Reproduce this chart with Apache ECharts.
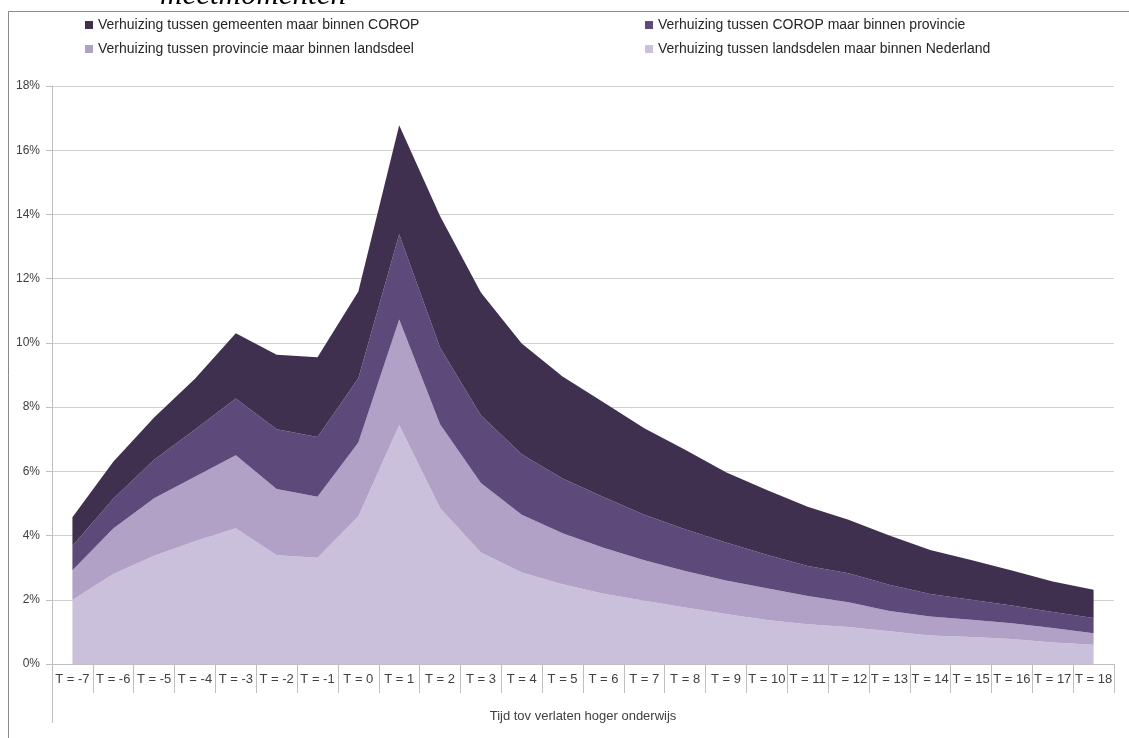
<!DOCTYPE html>
<html>
<head>
<meta charset="utf-8">
<script src="https://cdn.jsdelivr.net/npm/echarts@6/dist/echarts.min.js"></script>
<style>html,body{margin:0;padding:0;background:#fff}#c{width:1129px;height:738px}</style>
</head>
<body>
<div id="c"></div>
<script>
const categories = ['T = -7','T = -6','T = -5','T = -4','T = -3','T = -2','T = -1','T = 0','T = 1','T = 2','T = 3','T = 4','T = 5','T = 6','T = 7','T = 8','T = 9','T = 10','T = 11','T = 12','T = 13','T = 14','T = 15','T = 16','T = 17','T = 18'];
const seriesNames = [
  'Verhuizing tussen gemeenten maar binnen COROP',
  'Verhuizing tussen COROP maar binnen provincie',
  'Verhuizing tussen provincie maar binnen landsdeel',
  'Verhuizing tussen landsdelen maar binnen Nederland'
];
// values in percent (each layer's own share, stacked)
const landsdelen = [1.99,2.80,3.37,3.82,4.23,3.39,3.31,4.60,7.44,4.86,3.47,2.85,2.48,2.19,1.97,1.76,1.56,1.37,1.24,1.15,1.02,0.89,0.84,0.78,0.67,0.60];
const provincie  = [0.93,1.42,1.79,2.01,2.27,2.06,1.90,2.30,3.29,2.61,2.17,1.80,1.59,1.43,1.26,1.14,1.04,0.99,0.88,0.77,0.63,0.59,0.54,0.49,0.45,0.36];
const corop      = [0.76,0.93,1.20,1.47,1.77,1.86,1.86,2.00,2.65,2.39,2.11,1.88,1.71,1.58,1.42,1.30,1.18,1.04,0.93,0.91,0.82,0.70,0.62,0.55,0.50,0.47];
const gemeenten  = [0.89,1.15,1.32,1.58,2.03,2.32,2.48,2.70,3.40,4.09,3.82,3.45,3.17,2.95,2.69,2.47,2.19,2.02,1.85,1.66,1.53,1.37,1.24,1.09,0.95,0.88];
const yTicks = [0,2,4,6,8,10,12,14,16,18];
const xTitle = 'Tijd tov verlaten hoger onderwijs';
const cutTitle = 'meetmomenten';

const colors = {
  gem: '#3F3050',
  corop: '#5E4A7A',
  prov: '#B1A1C7',
  land: '#CAC0DB'
};

const chart = echarts.init(document.getElementById('c'), null, {renderer: 'canvas'});
const font = 'Liberation Sans, Arial, sans-serif';

function legendItem(name, left, top) {
  return {
    data: [name], left: left, top: top, padding: 0,
    icon: 'rect', itemWidth: 8, itemHeight: 8, itemGap: 0,
    selectedMode: false,
    textStyle: {fontFamily: font, fontSize: 14, color: '#262626'}
  };
}
function areaSeries(name, data, color) {
  return {
    name: name, type: 'line', stack: 'total', data: data,
    showSymbol: false, symbol: 'none',
    lineStyle: {width: 0, color: color},
    itemStyle: {color: color},
    areaStyle: {color: color, opacity: 1},
    emphasis: {disabled: true}
  };
}

chart.setOption({
  animation: false,
  backgroundColor: '#fff',
  textStyle: {fontFamily: font},
  graphic: [
    {type: 'rect', shape: {x: 8.5, y: 11.5, width: 1300, height: 900}, style: {fill: 'none', stroke: '#8A8A8A', lineWidth: 1}, silent: true},
    {type: 'text', left: 160, top: -20, style: {text: cutTitle, font: 'italic 31px "Liberation Serif", "DejaVu Serif", serif', fill: '#000'}},
    {type: 'line', shape: {x1: 52.5, y1: 664, x2: 52.5, y2: 723}, style: {stroke: '#BFBFBF', lineWidth: 1}, silent: true}
  ],
  legend: [
    legendItem(seriesNames[0], 85, 18),
    legendItem(seriesNames[1], 645, 18),
    legendItem(seriesNames[2], 85, 42),
    legendItem(seriesNames[3], 645, 42)
  ],
  grid: {left: 52, right: 15, top: 86, bottom: 74, containLabel: false},
  xAxis: {
    type: 'category', data: categories, boundaryGap: true,
    name: xTitle, nameLocation: 'middle', nameGap: 46,
    nameTextStyle: {fontFamily: font, fontSize: 13, color: '#404040'},
    axisLine: {show: true, lineStyle: {color: '#BFBFBF', width: 1}},
    axisTick: {show: true, interval: 0, length: 29, lineStyle: {color: '#BFBFBF'}},
    axisLabel: {interval: 0, fontFamily: font, fontSize: 13, color: '#404040', margin: 9},
    splitLine: {show: false}
  },
  yAxis: {
    type: 'value', min: 0, max: 18, interval: 2,
    axisLine: {show: true, lineStyle: {color: '#BFBFBF', width: 1}},
    axisTick: {show: true, length: 6, lineStyle: {color: '#BFBFBF'}},
    axisLabel: {formatter: '{value}%', fontFamily: font, fontSize: 12, color: '#404040', margin: 12},
    splitLine: {show: true, lineStyle: {color: '#D0D0D0', width: 1}}
  },
  series: [
    areaSeries(seriesNames[3], landsdelen, colors.land),
    areaSeries(seriesNames[2], provincie, colors.prov),
    areaSeries(seriesNames[1], corop, colors.corop),
    areaSeries(seriesNames[0], gemeenten, colors.gem)
  ]
});
</script>
</body>
</html>
